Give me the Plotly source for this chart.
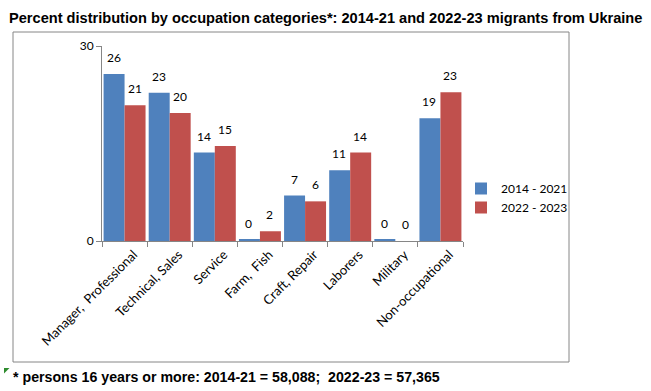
import plotly.graph_objects as go

categories = ["Manager,\u00a0 Professional", "Technical, Sales", "Service", "Farm,\u00a0 Fish",
              "Craft, Repair", "Laborers", "Military", "Non-occupational"]
series_names = ["2014 - 2021", "2022 - 2023"]
values_2014_21 = [25.7, 22.8, 13.6, 0.2, 7.0, 10.9, 0.2, 18.9]
values_2022_23 = [20.9, 19.7, 14.6, 1.5, 6.1, 13.6, 0.0, 22.9]
y_ticks = [0, 30]

colors = ["#4F81BD", "#C0504D"]

W, H = 651, 391
ML, MR, MT, MB = 102, 188, 46, 150
PW, PH = W - ML - MR, H - MT - MB

def px(x):
    return (x - ML) / PW

def py(y):
    return (H - MB - y) / PH

fig = go.Figure()
for name, vals, c in zip(series_names, [values_2014_21, values_2022_23], colors):
    fig.add_trace(go.Bar(x=categories, y=vals, name=name, marker=dict(color=c, line=dict(width=0))))

label_font = dict(family="Lato", size=12, color="#000000")
annotations = []
for shift, vals in zip([-11, 10], [values_2014_21, values_2022_23]):
    for cat, v in zip(categories, vals):
        annotations.append(dict(x=cat, y=v, xref="x", yref="y", text=f"{v:.0f}",
                                showarrow=False, xshift=shift, yshift=7, yanchor="bottom",
                                font=label_font))

annotations.append(dict(text="<b>Percent distribution by occupation categories*: 2014-21 and 2022-23 migrants from Ukraine</b>",
                        xref="paper", yref="paper", x=px(325), y=py(18), xanchor="center", yanchor="middle",
                        showarrow=False, font=dict(family="Liberation Sans", size=14.6, color="#000000")))
annotations.append(dict(text="<b>* persons 16 years or more: 2014-21 = 58,088;\u00a0 2022-23 = 57,365</b>",
                        xref="paper", yref="paper", x=px(11), y=py(377), xanchor="left", yanchor="middle",
                        showarrow=False, font=dict(family="Liberation Sans", size=14.2, color="#000000")))

shapes = [
    dict(type="rect", xref="paper", yref="paper", x0=px(13), x1=px(569), y0=py(362), y1=py(32),
         line=dict(color="#868686", width=1), fillcolor="rgba(0,0,0,0)", layer="below"),
    dict(type="path", xref="paper", yref="paper",
         path=f"M {px(4)} {py(368)} L {px(9.5)} {py(368)} L {px(4)} {py(373.5)} Z",
         fillcolor="#2E8B2E", line=dict(width=0)),
]

fig.update_layout(
    width=W, height=H,
    margin=dict(l=ML, r=MR, t=MT, b=MB),
    paper_bgcolor="white", plot_bgcolor="white",
    barmode="group", bargap=0.07, bargroupgap=0,
    showlegend=True,
    legend=dict(x=px(461), y=py(198), xanchor="left", yanchor="middle",
                font=dict(family="Lato", size=12, color="#000000"),
                bgcolor="rgba(0,0,0,0)", tracegroupgap=0),
    annotations=annotations,
    shapes=shapes,
    xaxis=dict(type="category", showline=True, linecolor="#868686", linewidth=1,
               ticks="outside", tickson="boundaries", ticklen=5, tickcolor="#868686",
               tickangle=-45, ticklabelshift=9,
               tickfont=dict(family="Lato", size=13, color="#000000"),
               showgrid=False, zeroline=False),
    yaxis=dict(range=[0, 30], tickvals=y_ticks, showline=True, linecolor="#868686", linewidth=1,
               ticks="outside", ticklen=5, tickcolor="#868686",
               tickfont=dict(family="Lato", size=12, color="#000000"),
               showgrid=True, gridcolor="#868686", gridwidth=1, zeroline=False),
)

fig.write_html("out.html", config={"displayModeBar": False},
               post_script="document.body.style.margin='0';document.body.style.padding='0';")
